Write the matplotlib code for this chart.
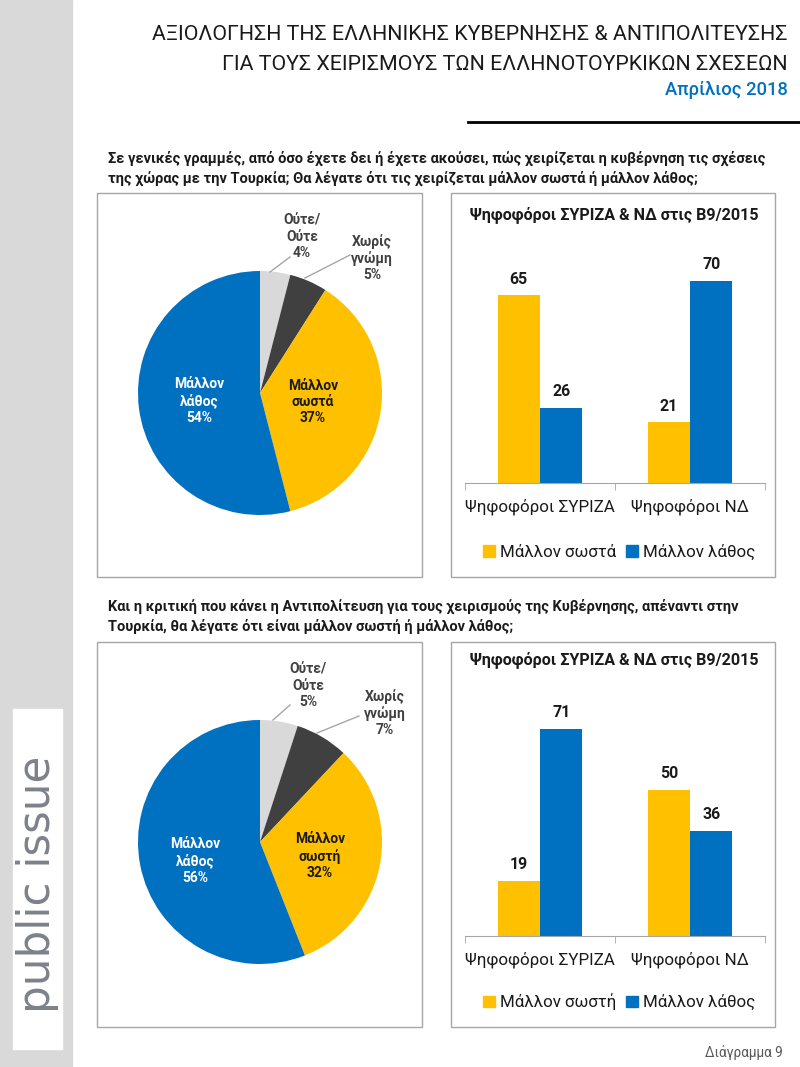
import matplotlib
matplotlib.use("Agg")
import matplotlib.pyplot as plt
from matplotlib.patches import Rectangle, Patch
import numpy as np

W, H = 800, 1067
FONT = ["Roboto", "DejaVu Sans"]
plt.rcParams['font.family'] = FONT

# ---------------- data ----------------
title_lines = ["ΑΞΙΟΛΟΓΗΣΗ ΤΗΣ ΕΛΛΗΝΙΚΗΣ ΚΥΒΕΡΝΗΣΗΣ & ΑΝΤΙΠΟΛΙΤΕΥΣΗΣ",
               "ΓΙΑ ΤΟΥΣ ΧΕΙΡΙΣΜΟΥΣ ΤΩΝ ΕΛΛΗΝΟΤΟΥΡΚΙΚΩΝ ΣΧΕΣΕΩΝ"]
date_text = "Απρίλιος 2018"
q1_lines = ["Σε γενικές γραμμές, από όσο έχετε δει ή έχετε ακούσει, πώς χειρίζεται η κυβέρνηση τις σχέσεις",
            "της χώρας με την Τουρκία; Θα λέγατε ότι τις χειρίζεται μάλλον σωστά ή μάλλον λάθος;"]
q2_lines = ["Και η κριτική που κάνει η Αντιπολίτευση για τους χειρισμούς της Κυβέρνησης, απέναντι στην",
            "Τουρκία, θα λέγατε ότι είναι μάλλον σωστή ή μάλλον λάθος;"]

pie1_labels = ["Ούτε/\nΟύτε", "Χωρίς\nγνώμη", "Μάλλον\nσωστά", "Μάλλον\nλάθος"]
pie1_values = [4, 5, 37, 54]
pie2_labels = ["Ούτε/\nΟύτε", "Χωρίς\nγνώμη", "Μάλλον\nσωστή", "Μάλλον\nλάθος"]
pie2_values = [5, 7, 32, 56]

bar_title = "Ψηφοφόροι ΣΥΡΙΖΑ & ΝΔ στις Β9/2015"
bar_categories = ["Ψηφοφόροι ΣΥΡΙΖΑ", "Ψηφοφόροι ΝΔ"]
bar1_series = ["Μάλλον σωστά", "Μάλλον λάθος"]
bar1_correct = [65, 21]
bar1_wrong = [26, 70]
bar2_series = ["Μάλλον σωστή", "Μάλλον λάθος"]
bar2_correct = [19, 50]
bar2_wrong = [71, 36]

footer = "Διάγραμμα 9"
brand = "public issue"

# ---------------- styles ----------------
YELLOW = "#FFC000"
BLUE = "#0070C0"
LGRAY = "#D9D9D9"
DGRAY = "#404040"
pie_colors = [LGRAY, DGRAY, YELLOW, BLUE]
TXT = "#1a1a1a"

fig = plt.figure(figsize=(W / 100, H / 100), dpi=100)
renderer = fig.canvas.get_renderer()


def fx(x):
    return x / W


def fy(y):
    return 1 - y / H


def size_for(s, width, **kw):
    t = fig.text(0, 0, s, fontsize=10, **kw)
    w = t.get_window_extent(renderer).width
    t.remove()
    return 10 * width / w


def size_for_height(s, height, **kw):
    t = fig.text(0, 0, s, fontsize=10, **kw)
    h = t.get_window_extent(renderer).height
    t.remove()
    return 10 * height / h


def px_axes(l, t, r, b, **kw):
    return fig.add_axes([fx(l), fy(b), (r - l) / W, (b - t) / H], **kw)


# sidebar
fig.patches.append(Rectangle((0, 0), fx(72), 1, transform=fig.transFigure,
                             color="#D9D9D9", zorder=0))
fig.patches.append(Rectangle((fx(13), fy(1049)), fx(62) - fx(13), fy(709) - fy(1049),
                             transform=fig.transFigure, color="white", zorder=1))
BFONT = ["DejaVu Sans"]
bs = size_for_height(brand, 44, family=BFONT)
fig.text(fx(38), fy(884), brand, rotation=90, ha="center", va="center",
         fontsize=bs, color="#7D8189", family=BFONT)

# title
ts = size_for(title_lines[0], 635)
fig.text(fx(788), fy(35), title_lines[0], ha="right", va="center", fontsize=ts, color=TXT)
fig.text(fx(788), fy(64), title_lines[1], ha="right", va="center", fontsize=ts, color=TXT)
ds = size_for(date_text, 123, fontweight="medium")
fig.text(fx(788), fy(90), date_text, ha="right", va="center", fontsize=ds, color=BLUE,
         fontweight="medium")
fig.add_artist(plt.Line2D([fx(468), fx(800)], [fy(122), fy(122)], color="black", lw=2,
                          transform=fig.transFigure))

# questions
qs = size_for(q1_lines[0], 660, fontweight="bold")
for i, line in enumerate(q1_lines):
    fig.text(fx(108), fy(158 + 20 * i), line, ha="left", va="center",
             fontsize=qs, fontweight="bold", color=TXT)
for i, line in enumerate(q2_lines):
    fig.text(fx(108), fy(606 + 20 * i), line, ha="left", va="center",
             fontsize=qs, fontweight="bold", color=TXT)

# boxes
for (l, t, r, b) in [(97, 193, 422, 577), (451, 193, 775, 577),
                     (97, 642, 422, 1027), (451, 642, 775, 1027)]:
    fig.patches.append(Rectangle((fx(l), fy(b)), fx(r) - fx(l), fy(t) - fy(b),
                                 transform=fig.transFigure, fill=False,
                                 edgecolor="#A6A6A6", lw=1.0, zorder=2))

# pies
ps = size_for("Μάλλον", 50, fontweight="bold")


def draw_pie(cy, values, labels, out_pos, leaders, in_pos):
    ax = px_axes(260 - 122, cy - 122, 260 + 122, cy + 122)
    ax.pie(values, colors=pie_colors, startangle=90, counterclock=False,
           radius=1, wedgeprops=dict(linewidth=0))
    ax.set_xlim(-1, 1)
    ax.set_ylim(-1, 1)
    ax.set_aspect("equal")
    ax.axis("off")
    for i in range(2):
        x, y = out_pos[i]
        fig.text(fx(x), fy(y), f"{labels[i]}\n{values[i]}%", ha="center", va="center",
                 fontsize=ps, fontweight="bold", color="#404040", linespacing=1.2)
        (x0, y0), (x1, y1) = leaders[i]
        fig.add_artist(plt.Line2D([fx(x0), fx(x1)], [fy(y0), fy(y1)], color="#A6A6A6",
                                  lw=1, transform=fig.transFigure))
    for i, col in zip([2, 3], [TXT, "white"]):
        x, y = in_pos[i - 2]
        fig.text(fx(x), fy(y), f"{labels[i]}\n{values[i]}%", ha="center", va="center",
                 fontsize=ps, fontweight="bold", color=col, linespacing=1.2)


draw_pie(393, pie1_values, pie1_labels,
         [(302, 237), (372, 258)],
         [((290, 257), (270, 272)), ((350, 255), (305, 278))],
         [(313, 402), (199, 401)])
draw_pie(842, pie2_values, pie2_labels,
         [(308, 686), (385, 713)],
         [((290, 705), (273, 720)), ((359, 716), (317, 733))],
         [(320, 856), (195, 861)])

# bars
bts = size_for(bar_title, 290, fontweight="bold")
tks = size_for(bar_categories[0], 150)
lgs = size_for(bar1_series[0], 116)
vls = size_for("65", 18, fontweight="bold")


def draw_bars(base, pxu, correct, wrong, series, title_y, legend_y):
    top = base - 80 * pxu
    ax = px_axes(465, top, 765, base)
    x = np.arange(len(bar_categories))
    w = 0.283
    b1 = ax.bar(x - w / 2, correct, w, color=YELLOW, label=series[0])
    b2 = ax.bar(x + w / 2, wrong, w, color=BLUE, label=series[1])
    for bars in (b1, b2):
        for r in bars:
            ax.annotate(f"{r.get_height():.0f}", (r.get_x() + r.get_width() / 2, r.get_height()),
                        xytext=(0, 16), textcoords="offset pixels", ha="center", va="center",
                        fontsize=vls, fontweight="bold", color=TXT)
    ax.set_xlim(-0.5, 1.5)
    ax.set_ylim(0, 80)
    for s in ["top", "right", "left"]:
        ax.spines[s].set_visible(False)
    ax.spines["bottom"].set_color("#A6A6A6")
    ax.set_yticks([])
    ax.set_xticks(x)
    ax.set_xticklabels(bar_categories, fontsize=tks, color=TXT)
    ax.tick_params(axis="x", which="major", length=0, pad=11)
    ax.set_xticks([-0.5, 0.5, 1.5], minor=True)
    ax.tick_params(axis="x", which="minor", length=5, color="#A6A6A6")
    ax.patch.set_alpha(0)
    fig.text(fx(614), fy(title_y), bar_title, ha="center", va="center",
             fontsize=bts, fontweight="bold", color=TXT)
    handles = [Patch(color=YELLOW, label=series[0]), Patch(color=BLUE, label=series[1])]
    fig.legend(handles=handles, loc="center", bbox_to_anchor=(fx(619), fy(legend_y)),
               ncol=2, frameon=False, fontsize=lgs, handlelength=0.7, handleheight=0.7,
               handletextpad=0.3, columnspacing=0.6, labelcolor=TXT)


draw_bars(483, 2.886, bar1_correct, bar1_wrong, bar1_series, 215, 552)
draw_bars(936, 2.92, bar2_correct, bar2_wrong, bar2_series, 660, 1002)

fs = size_for(footer, 78)
fig.text(fx(783), fy(1053), footer, ha="right", va="center", fontsize=fs, color="#595959")

fig.savefig("out.png", dpi=100)
